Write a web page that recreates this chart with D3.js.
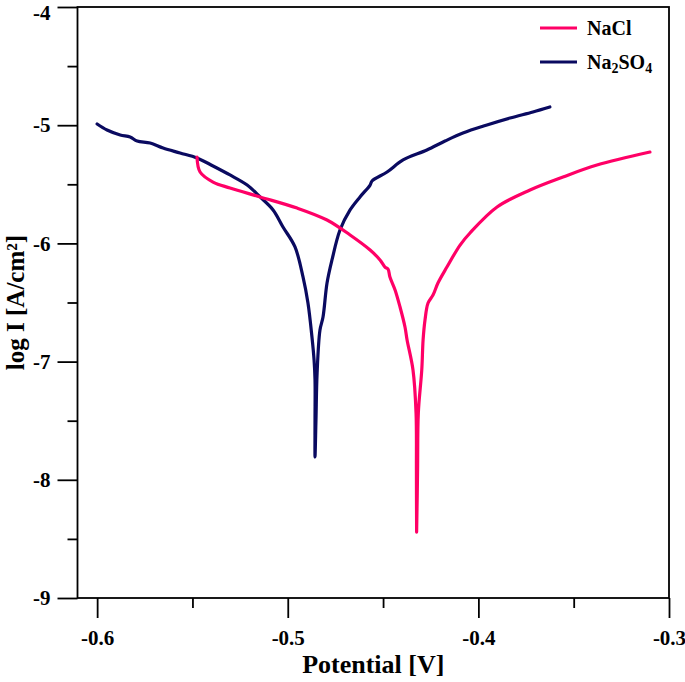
<!DOCTYPE html>
<html>
<head>
<meta charset="utf-8">
<script src="https://cdn.jsdelivr.net/npm/d3@7"></script>
<style>
  html, body { margin: 0; padding: 0; background: #fff; }
  svg { display: block; }
  text { font-family: "Liberation Serif", "Times New Roman", serif; font-weight: bold; fill: #000; }
</style>
</head>
<body>
<svg id="chart" width="685" height="682"></svg>
<script>
// ---- data (Potential [V], log I [A/cm2]) ----
const naclPotential = [-0.5476,-0.5460,-0.5392,-0.5303,-0.5145,-0.4951,-0.4794,-0.4673,-0.4568,-0.4516,-0.4490,-0.4474,-0.4464,-0.4437,-0.4411,-0.4385,-0.4374,-0.4343,-0.4327,-0.4325,-0.4324,-0.4319,-0.4315,-0.4297,-0.4290,-0.4280,-0.4264,-0.4238,-0.4212,-0.4165,-0.4096,-0.4044,-0.3902,-0.3729,-0.3556,-0.3378,-0.3100];
const naclLogI      = [-5.269,-5.396,-5.481,-5.531,-5.607,-5.701,-5.802,-5.929,-6.056,-6.140,-6.200,-6.217,-6.284,-6.394,-6.538,-6.707,-6.817,-7.071,-7.435,-7.917,-8.442,-7.917,-7.435,-7.071,-6.817,-6.648,-6.504,-6.437,-6.335,-6.200,-6.014,-5.912,-5.692,-5.548,-5.438,-5.337,-5.227];

const na2so4Potential = [-0.6000,-0.5948,-0.5879,-0.5827,-0.5790,-0.5722,-0.5654,-0.5565,-0.5476,-0.5392,-0.5303,-0.5213,-0.5145,-0.5077,-0.5025,-0.4962,-0.4920,-0.4894,-0.4873,-0.4862,-0.4857,-0.4857,-0.4857,-0.4852,-0.4846,-0.4831,-0.4815,-0.4794,-0.4768,-0.4726,-0.4673,-0.4621,-0.4568,-0.4558,-0.4479,-0.4395,-0.4270,-0.4175,-0.4081,-0.3955,-0.3834,-0.3714,-0.3625];
const na2so4LogI      = [-4.990,-5.041,-5.083,-5.100,-5.134,-5.151,-5.193,-5.235,-5.277,-5.345,-5.421,-5.506,-5.607,-5.717,-5.861,-6.030,-6.284,-6.504,-6.792,-6.986,-7.156,-7.494,-7.807,-7.494,-7.096,-6.733,-6.623,-6.335,-6.140,-5.887,-5.717,-5.607,-5.506,-5.472,-5.396,-5.294,-5.210,-5.134,-5.066,-4.998,-4.939,-4.888,-4.846];

const xMajorTicks = [-0.6, -0.5, -0.4, -0.3];
const xMinorTicks = [-0.55, -0.45, -0.35];
const yMajorTicks = [-4, -5, -6, -7, -8, -9];
const yMinorTicks = [-4.5, -5.5, -6.5, -7.5, -8.5];
const seriesNames = ["NaCl", "Na2SO4"];
const seriesColors = ["#ff0066", "#0a0a60"];

// ---- layout ----
const svg = d3.select("#chart");
const L = 77.5, R = 669, T = 7, B = 598;

const x = d3.scaleLinear().domain([-0.6103, -0.3]).range([L, R]);
const y = d3.scaleLinear().domain([-9, -4]).range([B, T]);

// curves
const line = d3.line().x(d => x(d[0])).y(d => y(d[1])).curve(d3.curveCatmullRom.alpha(0.5));
const naclData = naclPotential.map((v, i) => [v, naclLogI[i]]);
const na2so4Data = na2so4Potential.map((v, i) => [v, na2so4LogI[i]]);

svg.append("path").datum(na2so4Data).attr("d", line)
  .attr("fill", "none").attr("stroke", seriesColors[1]).attr("stroke-width", 3.2)
  .attr("stroke-linejoin", "round").attr("stroke-linecap", "round");
svg.append("path").datum(naclData).attr("d", line)
  .attr("fill", "none").attr("stroke", seriesColors[0]).attr("stroke-width", 3.2)
  .attr("stroke-linejoin", "round").attr("stroke-linecap", "round");

// frame
svg.append("rect").attr("x", L).attr("y", T).attr("width", R - L).attr("height", B - T)
  .attr("fill", "none").attr("stroke", "#000").attr("stroke-width", 1.8);

const minus = s => s.replace("−", "-");

// x axis
const gx = svg.append("g").attr("transform", `translate(0,${B})`)
  .call(d3.axisBottom(x).tickValues(xMajorTicks).tickSize(20).tickSizeOuter(0)
    .tickFormat(d => minus(d3.format(".1f")(d))));
gx.select(".domain").remove();
gx.selectAll(".tick line").attr("stroke-width", 1.8);
gx.selectAll(".tick text").attr("font-size", 21).attr("y", 47).attr("dy", 0)
  .style("font-family", "Liberation Serif").style("font-weight", "bold");
const gxm = svg.append("g").attr("transform", `translate(0,${B})`)
  .call(d3.axisBottom(x).tickValues(xMinorTicks).tickSize(10).tickFormat(""));
gxm.select(".domain").remove();
gxm.selectAll(".tick line").attr("stroke-width", 1.8);

// y axis
const gy = svg.append("g").attr("transform", `translate(${L},0)`)
  .call(d3.axisLeft(y).tickValues(yMajorTicks).tickSize(20).tickSizeOuter(0)
    .tickFormat(d => minus(d3.format("d")(d))));
gy.select(".domain").remove();
gy.selectAll(".tick line").attr("stroke-width", 1.8);
gy.selectAll(".tick text").attr("font-size", 21).attr("x", -27)
  .attr("dy", d => d === -4 ? "12px" : "0.32em")
  .style("font-family", "Liberation Serif").style("font-weight", "bold");
const gym = svg.append("g").attr("transform", `translate(${L},0)`)
  .call(d3.axisLeft(y).tickValues(yMinorTicks).tickSize(10).tickFormat(""));
gym.select(".domain").remove();
gym.selectAll(".tick line").attr("stroke-width", 1.8);

// axis titles
svg.append("text").attr("x", (L + R) / 2).attr("y", 673).attr("text-anchor", "middle")
  .attr("font-size", 26).text("Potential [V]");
svg.append("text").attr("transform", `translate(24,${(T + B) / 2}) rotate(-90)`)
  .attr("text-anchor", "middle").attr("font-size", 25).text("log I [A/cm²]");

// legend
const lg = svg.append("g");
const legendY = [28, 62];
seriesNames.forEach((name, i) => {
  lg.append("line").attr("x1", 540).attr("x2", 577).attr("y1", legendY[i]).attr("y2", legendY[i])
    .attr("stroke", seriesColors[i]).attr("stroke-width", 3.2);
  const t = lg.append("text").attr("x", 587).attr("y", legendY[i] + 7).attr("font-size", 20);
  if (name === "Na2SO4") {
    t.append("tspan").text("Na");
    t.append("tspan").attr("font-size", 14).attr("dy", 4).text("2");
    t.append("tspan").attr("dy", -4).text("SO");
    t.append("tspan").attr("font-size", 14).attr("dy", 4).text("4");
  } else {
    t.text(name);
  }
});
</script>
</body>
</html>
